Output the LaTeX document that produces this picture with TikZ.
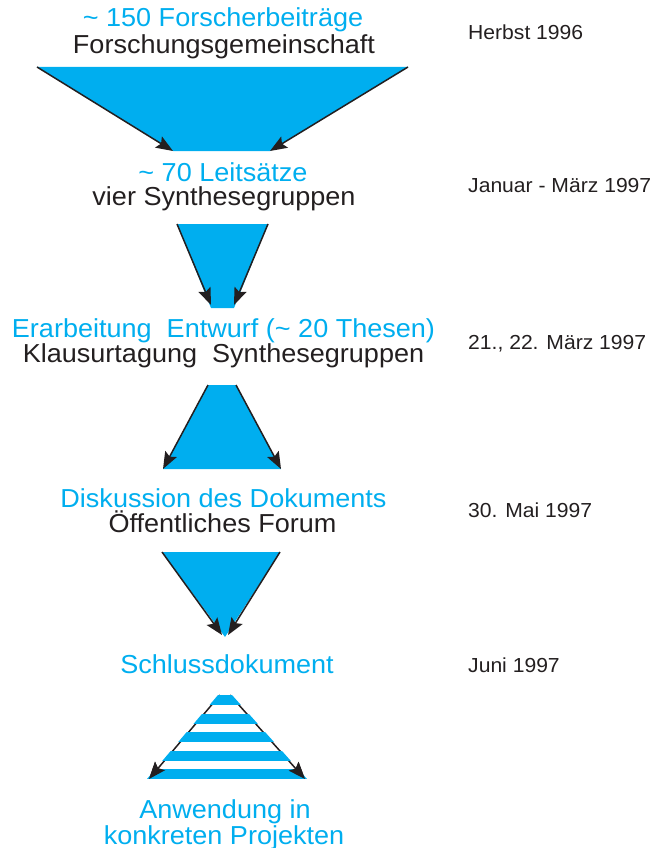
\documentclass[tikz,border=0pt]{standalone}
\usepackage{fontspec}
\setmainfont[FakeStretch=1.04]{Liberation Sans}
\usetikzlibrary{arrows.meta,calc}
\definecolor{funnelblue}{RGB}{0,174,239}
\definecolor{inkblack}{RGB}{35,31,32}

\begin{document}
\begin{tikzpicture}[x=1pt,y=-1pt,>={Stealth[length=17pt,width=13pt,inset=3pt]},
  result/.style={text=funnelblue,font=\fontsize{26}{26}\selectfont,anchor=base,inner sep=0pt},
  group/.style={result,text=inkblack},
  date/.style={text=inkblack,font=\fontsize{20.3}{20.3}\selectfont,anchor=base west,inner sep=0pt},
  funnel/.style={fill=funnelblue},
  side/.style={->,line width=1.5pt,draw=inkblack}]

  \useasboundingbox (0,0) rectangle (655,848);

  \node[result] (res1) at (223,27) {\textasciitilde\ 150 Forscherbeiträge};
  \node[group] (grp1) at (224,54) {Forschungsgemeinschaft};
  \node[result] (res2) at (223,181) {\textasciitilde\ 70 Leitsätze};
  \node[group] (grp2) at (224,205) {vier Synthesegruppen};
  \node[result] (res3) at (223.5,337) {Erarbeitung\ \ Entwurf (\textasciitilde\ 20 Thesen)};
  \node[group] (grp3) at (223.5,362) {Klausurtagung\ \ Synthesegruppen};
  \node[result] (res4) at (223.5,507) {Diskussion des Dokuments};
  \node[group] (grp4) at (222.5,532) {Öffentliches Forum};
  \node[result] (res5) at (227,673) {Schlussdokument};
  \node[result] (res6) at (225,818) {Anwendung in};
  \node[result] (res7) at (224,844) {konkreten Projekten};

  \node[date] (date1) at (468,40) {Herbst 1996};
  \node[date] (date2) at (468,192) {Januar - März 1997};
  \node[date] (date3) at (468,349) {21., 22. März 1997};
  \node[date] (date4) at (468,517) {30. Mai 1997};
  \node[date] (date5) at (468,672) {Juni 1997};

  % funnels
  \coordinate (f1a) at (37,67);  \coordinate (f1b) at (408,67);
  \coordinate (f1c) at (270,151); \coordinate (f1d) at (173,151);
  \fill[funnel] (f1a) -- (f1b) -- (f1c) -- (f1d) -- cycle;
  \draw[side] (f1a) -- (f1d);
  \draw[side] (f1b) -- (f1c);

  \coordinate (f2a) at (177,224); \coordinate (f2b) at (268,224);
  \coordinate (f2c) at (234,308); \coordinate (f2d) at (211,308);
  \fill[funnel] (f2a) -- (f2b) -- (f2c) -- (f2d) -- cycle;
  \draw[side] (f2a) -- ($(f2d)+(0,-3)$);
  \draw[side] (f2b) -- ($(f2c)+(0,-3)$);

  \coordinate (f3a) at (208,385); \coordinate (f3b) at (236,385);
  \coordinate (f3c) at (281,469); \coordinate (f3d) at (163,469);
  \fill[funnel] (f3a) -- (f3b) -- (f3c) -- (f3d) -- cycle;
  \draw[side] (f3a) -- (f3d);
  \draw[side] (f3b) -- (f3c);

  \coordinate (f4a) at (162,552); \coordinate (f4b) at (280,552);
  \coordinate (f4c) at (225,637);
  \fill[funnel] (f4a) -- (f4b) -- (f4c) -- cycle;
  \draw[side] (f4a) -- ($(f4c)+(-3,-2)$);
  \draw[side] (f4b) -- ($(f4c)+(3,-2)$);

  \coordinate (f5a) at (220,695); \coordinate (f5b) at (230,695);
  \coordinate (f5c) at (305,779); \coordinate (f5d) at (149,779);
  \draw[side] (f5a) -- (f5d);
  \draw[side] (f5b) -- (f5c);
  \begin{scope}
    \clip ($(f5a)+(-2,0)$) -- ($(f5b)+(2,0)$) -- ($(f5c)+(2,0)$) -- ($(f5d)+(-2,0)$) -- cycle;
    \foreach \y in {695,713.5,732,750.5,769}
      \fill[funnel] (140,\y) rectangle (315,\y+10);
  \end{scope}
  \draw[side] ($(f5a)!0.9!(f5d)$) -- (f5d);
  \draw[side] ($(f5b)!0.9!(f5c)$) -- (f5c);
\end{tikzpicture}
\end{document}
